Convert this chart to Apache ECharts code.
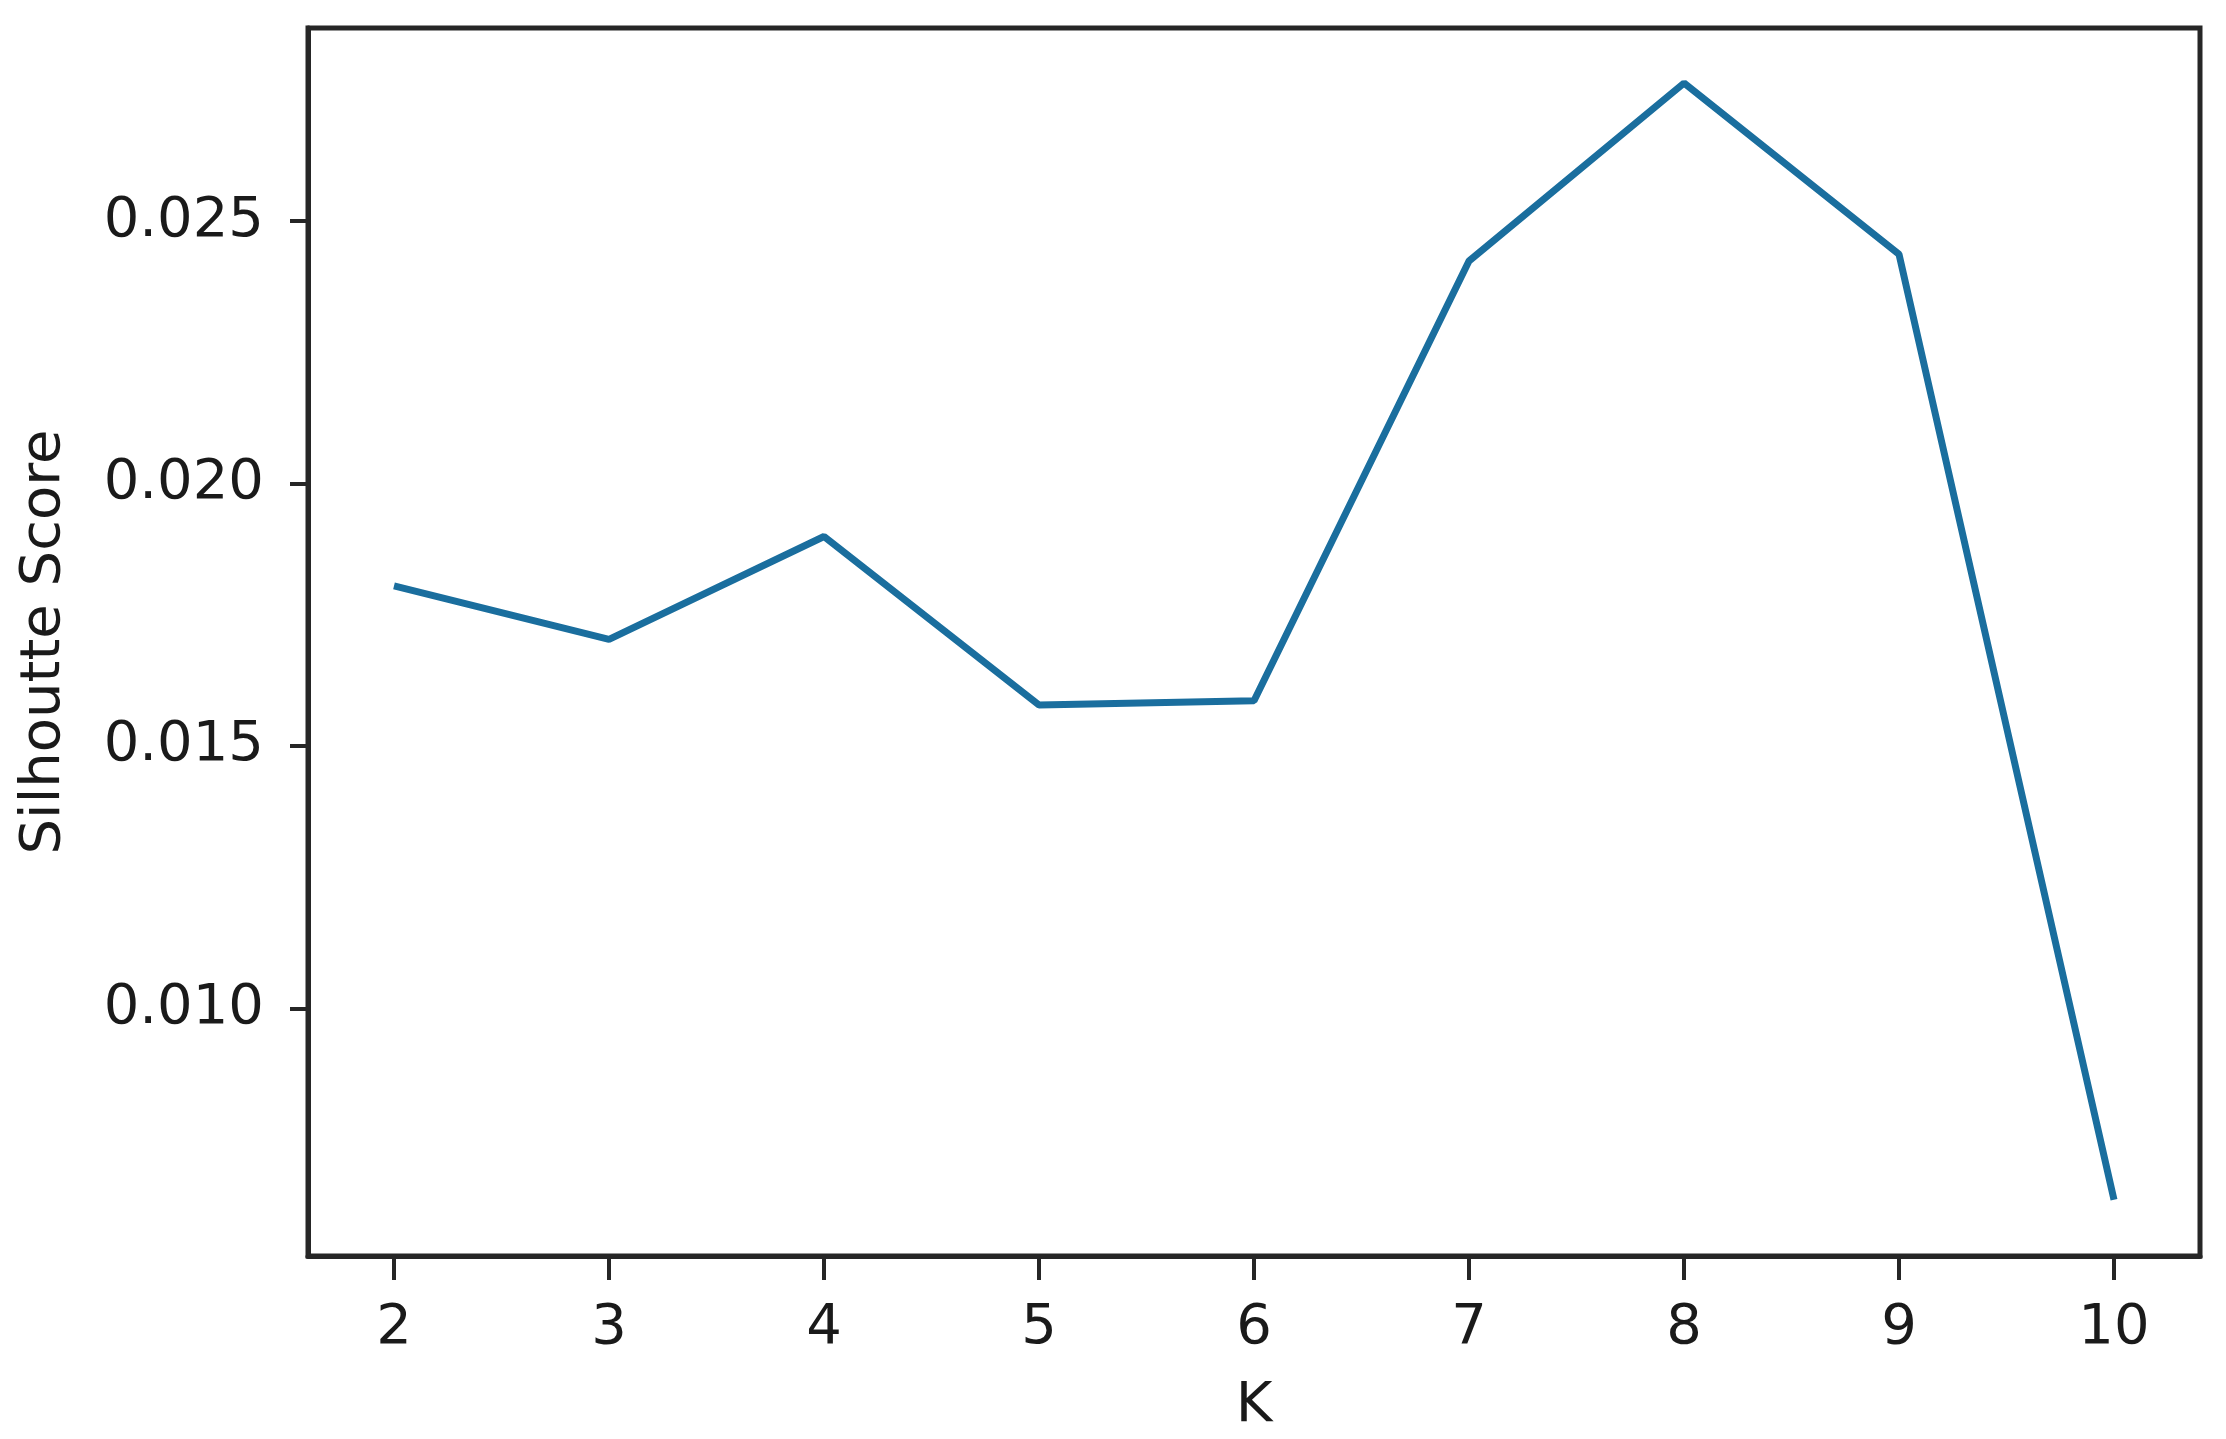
<!DOCTYPE html>
<html>
<head>
<meta charset="utf-8">
<script src="https://cdn.jsdelivr.net/npm/echarts@6/dist/echarts.min.js"></script>
<style>
  html, body { margin: 0; padding: 0; background: #fff; }
  #chart { width: 2226px; height: 1439px; }
</style>
</head>
<body>
<div id="chart"></div>
<script>
  // K values and silhouette scores
  const kValues = [2, 3, 4, 5, 6, 7, 8, 9, 10]
  const scores = [0.01805, 0.01703, 0.01899, 0.01578, 0.01586, 0.02424, 0.02763, 0.02437, 0.00635]
  const yTicks = [0.010, 0.015, 0.020, 0.025]

  const font = 'DejaVu Sans'
  const ink = '#1a1a1a'
  const chart = echarts.init(document.getElementById('chart'))

  chart.setOption({
    animation: false,
    backgroundColor: '#fff',
    grid: {
      left: 308,
      right: 26,
      top: 28,
      bottom: 183,
      show: true,
      borderColor: '#262626',
      borderWidth: 5
    },
    xAxis: {
      type: 'value',
      min: 1.6,
      max: 10.4,
      name: 'K',
      nameLocation: 'middle',
      nameGap: 122,
      nameTextStyle: { fontFamily: font, fontSize: 56, color: ink, lineHeight: 56 },
      splitLine: { show: false },
      axisLine: { show: true, onZero: false, lineStyle: { color: '#262626', width: 5 } },
      axisTick: {
        show: true,
        length: 24,
        customValues: kValues,
        lineStyle: { color: '#262626', width: 4 }
      },
      axisLabel: {
        customValues: kValues,
        margin: 44,
        fontFamily: font,
        fontSize: 56,
        lineHeight: 56,
        color: ink
      }
    },
    yAxis: {
      type: 'value',
      min: 0.00528,
      max: 0.02868,
      name: 'Silhoutte Score',
      nameLocation: 'middle',
      nameGap: 236,
      nameTextStyle: { fontFamily: font, fontSize: 56, color: ink, lineHeight: 56 },
      splitLine: { show: false },
      axisLine: { show: true, onZero: false, lineStyle: { color: '#262626', width: 5 } },
      axisTick: {
        show: true,
        length: 18,
        customValues: yTicks,
        lineStyle: { color: '#262626', width: 4 }
      },
      axisLabel: {
        customValues: yTicks,
        margin: 44,
        fontFamily: font,
        fontSize: 56,
        color: ink,
        formatter: v => v.toFixed(3)
      }
    },
    series: [{
      type: 'line',
      data: kValues.map((k, i) => [k, scores[i]]),
      symbol: 'none',
      lineStyle: { color: '#1a6e9e', width: 7 }
    }]
  })
</script>
</body>
</html>
